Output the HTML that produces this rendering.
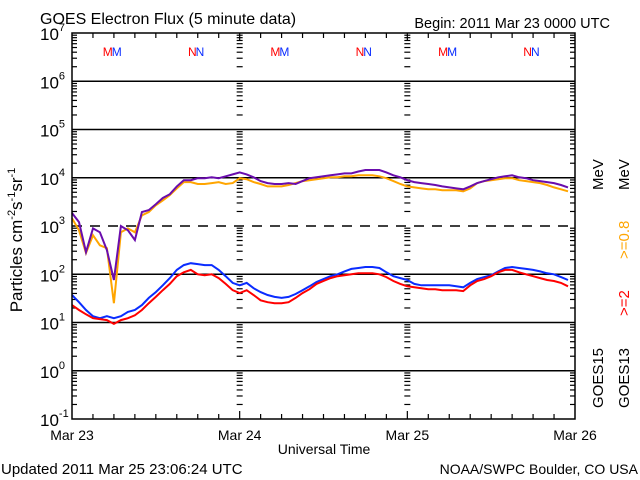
<!DOCTYPE html>
<html><head><meta charset="utf-8"><style>
html,body{margin:0;padding:0;background:#fff;}
svg{display:block;font-family:"Liberation Sans",sans-serif;}
</style></head><body>
<svg id="chart" width="640" height="480" viewBox="0 0 640 480">
<rect width="640" height="480" fill="#fff"/>
<text x="40" y="24" font-size="16">GOES Electron Flux (5 minute data)</text>
<text x="610" y="28" font-size="14.5" text-anchor="end">Begin: 2011 Mar 23 0000 UTC</text>
<g id="grid"></g>
<g id="ticks"></g>
<g id="series"></g>
<rect x="72" y="33" width="503" height="386" fill="none" stroke="#000" stroke-width="1.5"/>
<g id="ylabels"></g>
<g id="xlabels"></g>
<g id="marks"></g>
<text transform="translate(22,240) rotate(-90)" font-size="17" text-anchor="middle">Particles cm<tspan font-size="11" dy="-7">-2</tspan><tspan dy="7">s</tspan><tspan font-size="11" dy="-7">-1</tspan><tspan dy="7">sr</tspan><tspan font-size="11" dy="-7">-1</tspan></text>
<text x="324" y="454" font-size="14" text-anchor="middle">Universal Time</text>
<text x="1" y="474" font-size="15">Updated 2011 Mar 25 23:06:24 UTC</text>
<text x="638" y="474" font-size="14" text-anchor="end">NOAA/SWPC Boulder, CO USA</text>
<text transform="translate(603,190) rotate(-90)" font-size="15">MeV</text>
<text transform="translate(629,190) rotate(-90)" font-size="15">MeV</text>
<text transform="translate(629,259) rotate(-90)" font-size="15" fill="#ffa500">&gt;=0.8</text>
<text transform="translate(629,316) rotate(-90)" font-size="15" fill="#ff0000">&gt;=2</text>
<text transform="translate(603,408) rotate(-90)" font-size="15">GOES15</text>
<text transform="translate(629,408) rotate(-90)" font-size="15">GOES13</text>
</svg>
<script>
const hours = Array.from({length:72},(_, i)=>i);
const purpleLog = [3.27,3.08,2.46,2.95,2.87,2.50,1.88,3.00,2.91,2.71,3.29,3.33,3.45,3.58,3.66,3.82,3.95,3.95,3.99,3.99,4.01,3.99,4.03,4.07,4.11,
4.07,4.01,3.93,3.89,3.87,3.87,3.89,3.87,3.93,3.99,4.01,4.03,4.05,4.07,4.09,4.09,4.13,4.16,4.16,4.16,4.11,4.05,4.01,3.95,
3.91,3.89,3.87,3.85,3.82,3.80,3.78,3.76,3.82,3.89,3.93,3.97,4.01,4.03,4.05,4.01,3.99,3.95,3.93,3.91,3.89,3.85,3.80];
const orangeLog = [3.16,2.91,2.44,2.81,2.60,2.54,1.40,2.87,2.95,2.87,3.22,3.29,3.43,3.53,3.64,3.78,3.91,3.91,3.87,3.87,3.89,3.91,3.87,3.89,3.99,
3.97,3.91,3.87,3.82,3.82,3.82,3.85,3.89,3.93,3.95,3.97,3.99,4.01,4.01,4.03,4.03,4.05,4.05,4.05,4.03,3.99,3.93,3.87,3.82,
3.80,3.78,3.76,3.76,3.74,3.74,3.74,3.72,3.78,3.89,3.93,3.95,3.97,3.99,3.99,3.95,3.93,3.91,3.89,3.85,3.80,3.76,3.72];
const blueLog = [1.57,1.42,1.26,1.13,1.09,1.13,1.09,1.13,1.22,1.26,1.36,1.51,1.63,1.77,1.92,2.09,2.19,2.23,2.21,2.19,2.19,2.09,1.96,1.82,1.77,
1.82,1.71,1.63,1.57,1.53,1.51,1.53,1.59,1.67,1.75,1.84,1.90,1.96,2.00,2.06,2.11,2.13,2.15,2.15,2.13,2.04,1.96,1.92,1.88,
1.80,1.77,1.77,1.77,1.77,1.77,1.75,1.73,1.82,1.90,1.94,1.98,2.06,2.13,2.15,2.13,2.11,2.09,2.06,2.02,2.00,1.94,1.88];
const redLog = [1.36,1.26,1.17,1.09,1.07,1.05,0.97,1.05,1.09,1.15,1.26,1.40,1.53,1.67,1.80,1.96,2.04,2.09,2.00,1.98,2.00,1.92,1.80,1.67,1.61,
1.67,1.57,1.46,1.42,1.40,1.40,1.42,1.51,1.61,1.69,1.80,1.86,1.92,1.96,1.98,2.00,2.02,2.02,2.02,2.00,1.94,1.86,1.80,1.75,
1.73,1.71,1.69,1.69,1.67,1.67,1.67,1.65,1.77,1.86,1.90,1.96,2.04,2.09,2.09,2.04,2.00,1.96,1.92,1.88,1.86,1.82,1.75];
const decades = [-1,0,1,2,3,4,5,6,7];
const dayLabels = ["Mar 23","Mar 24","Mar 25","Mar 26"];
const markerLabels = ["MM","NN","MM","NN","MM","NN"];
const markerHours = [4.4,16.6,28.4,40.6,52.4,64.6];

const NS="http://www.w3.org/2000/svg";
const X0=72,X1=575,Y0=419,DEC=48.25;
function xs(h){return X0+h*(X1-X0)/72;}
function ys(l){return Y0-(l+1)*DEC;}
function mk(tag,attrs,parent){const e=document.createElementNS(NS,tag);for(const k in attrs)e.setAttribute(k,attrs[k]);parent.appendChild(e);return e;}
const grid=document.getElementById('grid'),ticks=document.getElementById('ticks');
decades.forEach(d=>{
  if(d>-1&&d<7){
    const l=mk('line',{x1:X0,x2:X1,y1:ys(d),y2:ys(d),stroke:'#000','stroke-width':1.5},grid);
    if(d===3) l.setAttribute('stroke-dasharray','10,8');
    
    
  }
  if(d<7){
    for(let m=2;m<=9;m++){
      const y=ys(d+Math.log10(m));
      [[X0,X0+5],[X1-5,X1],[xs(24)-3,xs(24)+3],[xs(48)-3,xs(48)+3]].forEach(p=>{
        const t=mk('line',{x1:p[0],x2:p[1],y1:y,y2:y,stroke:'#000','stroke-width':1.2},ticks);
        
        
      });
    }
  }
});
for(let h=3;h<72;h+=3){
  const len=(h%24===0)?8:5;
  const a=mk('line',{x1:xs(h),x2:xs(h),y1:Y0,y2:Y0-len,stroke:'#000','stroke-width':1.2},ticks);
  
  
  const b=mk('line',{x1:xs(h),x2:xs(h),y1:33,y2:33+len,stroke:'#000','stroke-width':1.2},ticks);
  
  
}
const ser=document.getElementById('series');
function draw(arr,color,name){
  const pts=arr.map((v,i)=>xs(hours[i]).toFixed(1)+','+ys(v).toFixed(1)).join(' ');
  const p=mk('polyline',{points:pts,fill:'none',stroke:color,'stroke-width':2,'stroke-linejoin':'miter'},ser);
  
  
}
draw(orangeLog,'#ffa500','series-goes13-0.8mev');
draw(purpleLog,'#6a0dad','series-goes15-0.8mev');
draw(blueLog,'#0a2cff','series-goes15-2mev');
draw(redLog,'#ff0000','series-goes13-2mev');
const yl=document.getElementById('ylabels');
decades.forEach(d=>{
  const t=mk('text',{x:40,y:ys(d)+7,'font-size':17},yl);
  t.textContent='10';
  const s=mk('tspan',{'font-size':11,dy:-9},t);
  s.textContent=String(d);
  
  
});
const xl=document.getElementById('xlabels');
dayLabels.forEach((lab,i)=>{
  const t=mk('text',{x:xs(i*24),y:440,'font-size':14,'text-anchor':'middle'},xl);
  t.textContent=lab;
  
  
});
const mg=document.getElementById('marks');
markerLabels.forEach((lab,i)=>{
  const t=mk('text',{x:xs(markerHours[i]),y:56,'font-size':12},mg);
  const a=mk('tspan',{fill:'#ff0000'},t);a.textContent=lab[0];
  const b=mk('tspan',{fill:'#0a2cff',dx:-1},t);b.textContent=lab[1];
  
  
});
</script>
</body></html>
